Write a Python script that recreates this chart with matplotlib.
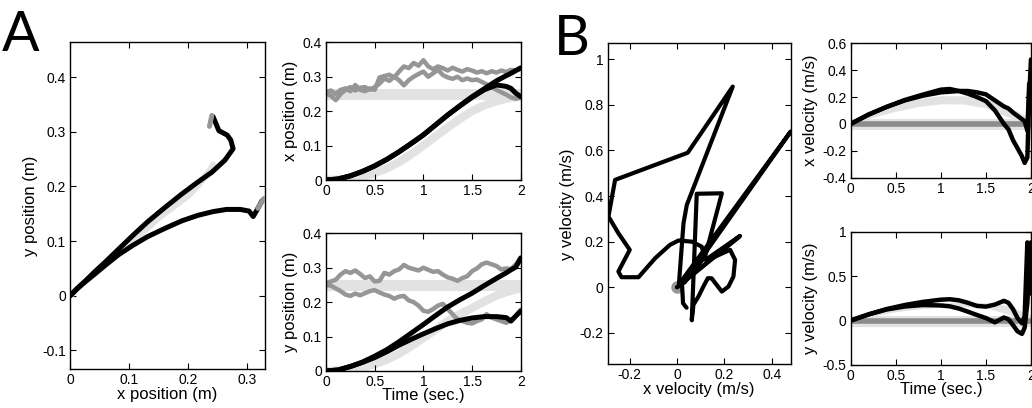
import matplotlib
matplotlib.use("Agg")
import matplotlib.pyplot as plt
from matplotlib.ticker import FuncFormatter

plt.rcParams['font.family'] = ['Liberation Sans', 'DejaVu Sans']
plt.rcParams['axes.unicode_minus'] = False

BLACK = 'black'
DARK = '#969696'
LIGHT = '#e2e2e2'
ZERO = '#8c8c8c'

# ---- position data (two reaches: U ends high, L ends low/right) ----
t_pos = [0, 0.125, 0.25, 0.375, 0.5, 0.625, 0.75, 0.875, 1.0, 1.125, 1.25,
         1.375, 1.5, 1.625, 1.75, 1.85, 1.9, 1.95, 2.0]
x_U = [0, 0.003, 0.012, 0.025, 0.041, 0.06, 0.082, 0.106, 0.131, 0.16, 0.189,
       0.215, 0.240, 0.262, 0.276, 0.272, 0.266, 0.252, 0.242]
y_U = [0, 0.003, 0.013, 0.026, 0.043, 0.062, 0.085, 0.11, 0.135, 0.161, 0.186,
       0.207, 0.226, 0.248, 0.269, 0.285, 0.294, 0.302, 0.328]
x_L = [0, 0.003, 0.012, 0.025, 0.041, 0.06, 0.082, 0.106, 0.131, 0.16, 0.189,
       0.216, 0.242, 0.265, 0.288, 0.303, 0.31, 0.318, 0.325]
y_L = [0, 0.003, 0.013, 0.025, 0.039, 0.056, 0.075, 0.092, 0.108, 0.123, 0.137,
       0.147, 0.154, 0.158, 0.158, 0.155, 0.145, 0.16, 0.174]

# mean (planned) trajectory, light grey
x_mean = [0, 0.001, 0.004, 0.01, 0.02, 0.034, 0.052, 0.075, 0.1, 0.127, 0.153,
          0.178, 0.2, 0.217, 0.229, 0.236, 0.239, 0.241, 0.242]
y_mean = [0, 0.001, 0.004, 0.01, 0.02, 0.033, 0.05, 0.072, 0.096, 0.12, 0.145,
          0.165, 0.183, 0.202, 0.219, 0.229, 0.233, 0.237, 0.24]
target = 0.25

# noisy target traces (dark grey), sampled every 0.05 s
t_tgt = [i * 0.05 for i in range(41)]
xg_hi = [0.255, 0.26, 0.25, 0.262, 0.266, 0.258, 0.276, 0.262, 0.258, 0.266,
         0.262, 0.298, 0.302, 0.306, 0.298, 0.315, 0.33, 0.325, 0.34, 0.332,
         0.348, 0.33, 0.322, 0.33, 0.325, 0.318, 0.326, 0.32, 0.315, 0.322,
         0.318, 0.312, 0.316, 0.31, 0.316, 0.312, 0.318, 0.314, 0.32, 0.318, 0.328]
xg_lo = [0.25, 0.245, 0.232, 0.25, 0.262, 0.27, 0.26, 0.268, 0.27, 0.262,
         0.27, 0.28, 0.295, 0.288, 0.3, 0.29, 0.275, 0.29, 0.3, 0.308,
         0.315, 0.3, 0.31, 0.32, 0.305, 0.298, 0.294, 0.3, 0.29, 0.295,
         0.29, 0.292, 0.285, 0.278, 0.27, 0.262, 0.255, 0.248, 0.24, 0.236, 0.24]
yg_hi = [0.255, 0.26, 0.265, 0.28, 0.29, 0.285, 0.292, 0.282, 0.27, 0.275,
         0.26, 0.262, 0.285, 0.28, 0.29, 0.295, 0.308, 0.3, 0.296, 0.292,
         0.3, 0.294, 0.288, 0.29, 0.28, 0.272, 0.268, 0.262, 0.27, 0.275,
         0.29, 0.298, 0.31, 0.315, 0.31, 0.305, 0.295, 0.298, 0.296, 0.31, 0.33]
yg_lo = [0.25, 0.248, 0.24, 0.232, 0.222, 0.218, 0.225, 0.22, 0.226, 0.232,
         0.235, 0.228, 0.222, 0.218, 0.21, 0.216, 0.218, 0.205, 0.2, 0.19,
         0.175, 0.172, 0.18, 0.19, 0.195, 0.18, 0.165, 0.15, 0.145, 0.14,
         0.138, 0.145, 0.15, 0.165, 0.155, 0.15, 0.145, 0.14, 0.148, 0.16, 0.178]

# ---- velocity data ----
t_vel = [0, 0.2, 0.4, 0.6, 0.8, 1.0, 1.1, 1.2, 1.3, 1.4, 1.5, 1.6, 1.7, 1.75,
         1.8, 1.85, 1.9, 1.93, 1.96, 1.98, 2.0]
vx_A = [0, 0.07, 0.127, 0.178, 0.218, 0.255, 0.26, 0.245, 0.225, 0.2, 0.17,
        0.1, 0.0, -0.04, -0.12, -0.18, -0.24, -0.29, -0.25, 0.2, 0.48]
vx_B = [0, 0.07, 0.127, 0.175, 0.21, 0.235, 0.24, 0.245, 0.245, 0.235, 0.22,
        0.175, 0.13, 0.115, 0.085, 0.06, 0.035, 0.02, -0.05, 0.3, 0.23]
vy_U = [0, 0.07, 0.13, 0.175, 0.21, 0.235, 0.24, 0.228, 0.2, 0.165, 0.157,
        0.18, 0.222, 0.2, 0.13, 0.03, -0.03, 0.05, 0.88, 0.3, 0.68]
vy_L = [0, 0.07, 0.125, 0.158, 0.175, 0.17, 0.16, 0.135, 0.1, 0.063, 0.028,
        -0.02, 0.035, 0.015, -0.05, -0.12, -0.15, -0.08, 0.2, 0.6, 0.88]

t_band = [0, 0.25, 0.5, 0.75, 1.0, 1.25, 1.5, 1.75, 2.0]
vx_band_lo = [0, 0.05, 0.095, 0.13, 0.15, 0.148, 0.12, 0.05, 0.0]
vx_band_hi = [0.03, 0.09, 0.15, 0.19, 0.21, 0.21, 0.19, 0.13, 0.04]
vy_band_lo = [0, 0.05, 0.1, 0.13, 0.15, 0.155, 0.145, 0.07, 0.0]
vy_band_hi = [0.02, 0.08, 0.14, 0.18, 0.2, 0.21, 0.2, 0.17, 0.06]

# velocity-space path (x velocity, y velocity)
pv1_x = [0, 0.266, 0.12, 0.104, 0.062, 0.006, -0.03, -0.093, -0.163, -0.235,
         -0.248, -0.2, -0.248, -0.29, -0.262, 0.045, 0.235, 0.041, 0.027, 0.008]
pv1_y = [0, 0.225, 0.12, 0.178, 0.2, 0.205, 0.186, 0.127, 0.044, 0.044,
         0.069, 0.164, 0.237, 0.31, 0.471, 0.59, 0.88, 0.361, 0.28, 0.018]
pv2_x = [0, 0.26, 0.13, 0.224, 0.245, 0.238, 0.217, 0.189, 0.146, 0.13, 0.111,
         0.09, 0.069, 0.062, 0.083, 0.189, 0.118, 0.03, 0.48, 0.02, 0.025, 0.04]
pv2_y = [0, 0.22, 0.12, 0.164, 0.12, 0.047, 0.003, -0.019, 0.039, 0.04, 0.003,
         -0.041, -0.077, -0.145, 0.41, 0.412, 0.134, 0.02, 0.683, 0.03, -0.07, -0.09]

fmt = FuncFormatter(lambda v, p: '%g' % round(v, 6))


def style(ax, xlim, ylim, xticks, yticks):
    ax.set_xlim(*xlim)
    ax.set_ylim(*ylim)
    ax.set_xticks(xticks)
    ax.set_yticks(yticks)
    ax.xaxis.set_major_formatter(fmt)
    ax.yaxis.set_major_formatter(fmt)
    ax.tick_params(direction='in', top=True, right=True, length=4,
                   width=0.8, labelsize=10, pad=3)
    for s in ax.spines.values():
        s.set_linewidth(1.0)


def line(ax, x, y, c, lw, z=3):
    ax.plot(x, y, color=c, lw=lw, solid_capstyle='round',
            solid_joinstyle='round', zorder=z)


fig = plt.figure(figsize=(10.32, 4.08), dpi=100)
LAB = 12

# A: hand path
ax = fig.add_axes([0.0678, 0.0956, 0.189, 0.801])
line(ax, x_mean, y_mean, LIGHT, 4.5, 2)
line(ax, x_U, y_U, BLACK, 3.6)
line(ax, x_L, y_L, BLACK, 3.6)
line(ax, xg_lo[-2:], yg_hi[-2:], DARK, 3.6, 4)
line(ax, xg_hi[-2:], yg_lo[-2:], DARK, 3.6, 4)
style(ax, (0, 0.33), (-0.134, 0.464), [0, 0.1, 0.2, 0.3],
      [-0.1, 0, 0.1, 0.2, 0.3, 0.4])
ax.set_xlabel('x position (m)', fontsize=LAB, labelpad=0)
ax.set_ylabel('y position (m)', fontsize=LAB, labelpad=3)

# A: x position vs time
ax = fig.add_axes([0.3159, 0.5588, 0.1887, 0.3375])
ax.axhline(target, color=LIGHT, lw=8, zorder=1)
line(ax, t_pos, x_mean, LIGHT, 6, 1)
line(ax, t_tgt, xg_hi, DARK, 3.2, 2)
line(ax, t_tgt, xg_lo, DARK, 3.2, 2)
line(ax, t_pos, x_U, BLACK, 3.6)
line(ax, t_pos, x_L, BLACK, 3.6)
style(ax, (0, 2), (0, 0.4), [0, 0.5, 1, 1.5, 2], [0, 0.1, 0.2, 0.3, 0.4])
ax.set_ylabel('x position (m)', fontsize=LAB, labelpad=3)

# A: y position vs time
ax = fig.add_axes([0.3159, 0.0907, 0.1887, 0.3375])
ax.axhline(target, color=LIGHT, lw=8, zorder=1)
line(ax, t_pos, y_mean, LIGHT, 6, 1)
line(ax, t_tgt, yg_hi, DARK, 3.2, 2)
line(ax, t_tgt, yg_lo, DARK, 3.2, 2)
line(ax, t_pos, y_U, BLACK, 3.6)
line(ax, t_pos, y_L, BLACK, 3.6)
style(ax, (0, 2), (0, 0.4), [0, 0.5, 1, 1.5, 2], [0, 0.1, 0.2, 0.3, 0.4])
ax.set_ylabel('y position (m)', fontsize=LAB, labelpad=3)
ax.set_xlabel('Time (sec.)', fontsize=LAB, labelpad=-1)

# B: velocity space
ax = fig.add_axes([0.5889, 0.1071, 0.1773, 0.7868])
ax.plot([0], [0], 'o', color=DARK, ms=8, zorder=2)
line(ax, pv1_x, pv1_y, BLACK, 3.0)
line(ax, pv2_x, pv2_y, BLACK, 3.0)
style(ax, (-0.293, 0.48), (-0.338, 1.07), [-0.2, 0, 0.2, 0.4],
      [-0.2, 0, 0.2, 0.4, 0.6, 0.8, 1])
ax.set_xlabel('x velocity (m/s)', fontsize=LAB, labelpad=0)
ax.set_ylabel('y velocity (m/s)', fontsize=LAB, labelpad=3)

# B: x velocity vs time
ax = fig.add_axes([0.8243, 0.5645, 0.1747, 0.3294])
ax.fill_between(t_band, vx_band_lo, vx_band_hi, color=LIGHT, lw=0, zorder=1)
ax.axhline(0, color=LIGHT, lw=8, zorder=1)
ax.axhline(0, color=ZERO, lw=4, zorder=2)
line(ax, t_vel, vx_A, BLACK, 3.2)
line(ax, t_vel, vx_B, BLACK, 3.2)
style(ax, (0, 2), (-0.4, 0.6), [0, 0.5, 1, 1.5, 2],
      [-0.4, -0.2, 0, 0.2, 0.4, 0.6])
ax.set_ylabel('x velocity (m/s)', fontsize=LAB, labelpad=3)

# B: y velocity vs time
ax = fig.add_axes([0.8243, 0.1054, 0.1747, 0.3267])
ax.fill_between(t_band, vy_band_lo, vy_band_hi, color=LIGHT, lw=0, zorder=1)
ax.axhline(0, color=LIGHT, lw=8, zorder=1)
ax.axhline(0, color=ZERO, lw=4, zorder=2)
line(ax, t_vel, vy_U, BLACK, 3.2)
line(ax, t_vel, vy_L, BLACK, 3.2)
style(ax, (0, 2), (-0.5, 1), [0, 0.5, 1, 1.5, 2], [-0.5, 0, 0.5, 1])
ax.set_ylabel('y velocity (m/s)', fontsize=LAB, labelpad=3)
ax.set_xlabel('Time (sec.)', fontsize=LAB, labelpad=-1)

fig.text(0.002, 0.975, 'A', fontsize=40, family='Lato', va='top', ha='left')
fig.text(0.537, 0.965, 'B', fontsize=40, family='Lato', va='top', ha='left')

fig.savefig('out.png', dpi=100)
